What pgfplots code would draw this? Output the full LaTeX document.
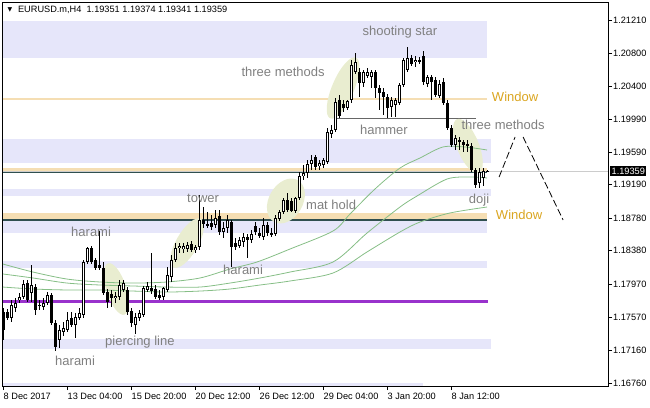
\documentclass[border=0pt]{standalone}
\usepackage{fontspec}
\setmainfont{Liberation Sans}
\newfontfamily\dejavu{DejaVu Sans}
\usepackage{pgfplots}
\pgfplotsset{compat=1.18}
\usepackage{pgfplotstable}
\usetikzlibrary{shapes.geometric}
\definecolor{lav}{RGB}{230,230,250}
\definecolor{wheatc}{RGB}{245,222,179}
\definecolor{ell}{RGB}{233,237,208}
\definecolor{magr}{RGB}{134,190,134}
\definecolor{lbl}{RGB}{128,128,128}
\definecolor{win}{RGB}{218,165,32}
\definecolor{dsg}{RGB}{47,79,79}
\definecolor{purp}{RGB}{153,50,204}
\newcommand\lf{\fontsize{13}{15}\selectfont}
\newcommand\tf{\fontsize{9.2}{11}\selectfont}

\pgfplotstableread{
i o h l c
0 1.17630 1.17679 1.17287 1.17409
1 1.17630 1.17667 1.17532 1.17556
2 1.17556 1.17777 1.17507 1.17716
3 1.17679 1.17802 1.17630 1.17740
4 1.17777 1.17863 1.17740 1.17814
5 1.17814 1.18022 1.17789 1.17973
6 1.17985 1.18022 1.17753 1.17777
7 1.17863 1.18206 1.17753 1.17961
8 1.17936 1.17973 1.17593 1.17654
9 1.17703 1.17777 1.17654 1.17716
10 1.17691 1.17802 1.17654 1.17740
11 1.17740 1.17875 1.17716 1.17838
12 1.17838 1.17863 1.17471 1.17495
13 1.17495 1.17532 1.17152 1.17201
14 1.17287 1.17471 1.17189 1.17409
15 1.17385 1.17507 1.17336 1.17434
16 1.17409 1.17630 1.17385 1.17532
17 1.17556 1.17630 1.17446 1.17471
18 1.17471 1.17618 1.17311 1.17569
19 1.17556 1.17679 1.17532 1.17618
20 1.17593 1.18267 1.17556 1.18243
21 1.18243 1.18427 1.18218 1.18415
22 1.18415 1.18439 1.18218 1.18243
23 1.18267 1.18292 1.18145 1.18169
24 1.18206 1.18623 1.18145 1.18169
25 1.18169 1.18243 1.17838 1.17863
26 1.17875 1.17912 1.17679 1.17753
27 1.17851 1.17900 1.17691 1.17802
28 1.17802 1.17875 1.17740 1.17826
29 1.17814 1.18022 1.17777 1.17961
30 1.17900 1.18022 1.17875 1.17985
31 1.17900 1.17936 1.17593 1.17630
32 1.17642 1.17679 1.17446 1.17495
33 1.17471 1.17618 1.17360 1.17569
34 1.17556 1.17654 1.17520 1.17618
35 1.17593 1.17949 1.17569 1.17924
36 1.17900 1.17998 1.17875 1.17949
37 1.17924 1.18353 1.17851 1.17887
38 1.17912 1.17961 1.17789 1.17814
39 1.17838 1.17900 1.17777 1.17802
40 1.17814 1.17936 1.17777 1.17924
41 1.17900 1.18182 1.17875 1.18084
42 1.18059 1.18329 1.17998 1.18267
43 1.18267 1.18476 1.18243 1.18415
44 1.18415 1.18476 1.18353 1.18439
45 1.18402 1.18476 1.18353 1.18439
46 1.18402 1.18488 1.18366 1.18451
47 1.18464 1.18500 1.18366 1.18390
48 1.18390 1.18451 1.18353 1.18427
49 1.18427 1.19064 1.18390 1.18758
50 1.18758 1.18917 1.18660 1.18709
51 1.18709 1.18856 1.18660 1.18684
52 1.18721 1.18819 1.18635 1.18672
53 1.18697 1.18880 1.18660 1.18782
54 1.18807 1.18880 1.18574 1.18611
55 1.18611 1.18733 1.18537 1.18660
56 1.18660 1.18819 1.18598 1.18758
57 1.18733 1.18758 1.18182 1.18427
58 1.18476 1.18537 1.18390 1.18427
59 1.18439 1.18549 1.18415 1.18513
60 1.18488 1.18598 1.18427 1.18549
61 1.18549 1.18586 1.18292 1.18513
62 1.18513 1.18635 1.18476 1.18586
63 1.18684 1.18733 1.18574 1.18611
64 1.18598 1.18660 1.18537 1.18562
65 1.18549 1.18782 1.18513 1.18697
66 1.18697 1.18733 1.18562 1.18598
67 1.18598 1.18660 1.18549 1.18574
68 1.18586 1.18819 1.18562 1.18782
69 1.18770 1.18880 1.18746 1.18856
70 1.18856 1.19028 1.18831 1.19003
71 1.19003 1.19089 1.18856 1.18880
72 1.18991 1.19028 1.18856 1.18868
73 1.18868 1.19040 1.18844 1.19028
74 1.19028 1.19346 1.19003 1.19297
75 1.19297 1.19432 1.19248 1.19334
76 1.19334 1.19493 1.19273 1.19444
77 1.19444 1.19555 1.19371 1.19493
78 1.19530 1.19555 1.19371 1.19408
79 1.19420 1.19493 1.19371 1.19457
80 1.19432 1.19518 1.19395 1.19493
81 1.19469 1.19886 1.19444 1.19837
82 1.19812 1.19923 1.19763 1.19861
83 1.19861 1.20254 1.19837 1.20205
84 1.20229 1.20290 1.20008 1.20033
85 1.20180 1.20229 1.20082 1.20131
86 1.20131 1.20229 1.20106 1.20217
87 1.20229 1.20719 1.20192 1.20658
88 1.20572 1.20805 1.20548 1.20695
89 1.20572 1.20621 1.20266 1.20437
90 1.20437 1.20597 1.20388 1.20572
91 1.20523 1.20621 1.20499 1.20572
92 1.20511 1.20597 1.20376 1.20572
93 1.20572 1.20597 1.20254 1.20376
94 1.20376 1.20413 1.20106 1.20315
95 1.20327 1.20376 1.20045 1.20266
96 1.20266 1.20303 1.20008 1.20131
97 1.20143 1.20266 1.20021 1.20229
98 1.20168 1.20254 1.20021 1.20229
99 1.20192 1.20437 1.20168 1.20413
100 1.20413 1.20744 1.20388 1.20719
101 1.20597 1.20879 1.20572 1.20744
102 1.20744 1.20781 1.20646 1.20670
103 1.20695 1.20768 1.20634 1.20719
104 1.20719 1.20756 1.20670 1.20695
105 1.20768 1.20830 1.20413 1.20450
106 1.20425 1.20536 1.20388 1.20511
107 1.20511 1.20536 1.20229 1.20450
108 1.20474 1.20511 1.20266 1.20290
109 1.20278 1.20474 1.20254 1.20425
110 1.20450 1.20499 1.20168 1.20192
111 1.20192 1.20229 1.19861 1.19886
112 1.19886 1.19923 1.19653 1.19677
113 1.19677 1.19800 1.19616 1.19763
114 1.19739 1.19775 1.19616 1.19714
115 1.19714 1.19739 1.19592 1.19677
116 1.19690 1.19739 1.19592 1.19665
117 1.19665 1.19702 1.19346 1.19371
118 1.19371 1.19395 1.19150 1.19187
119 1.19211 1.19395 1.19150 1.19346
120 1.19273 1.19395 1.19175 1.19359
121 1.19351 1.19374 1.19341 1.19359
}\candles

\begin{document}
\begin{tikzpicture}[x=1pt,y=1pt]
\useasboundingbox (0,0) rectangle (650,407);
\begin{axis}[
  at={(3pt,21pt)}, anchor=south west,
  scale only axis, width=605pt, height=383pt,
  xmin=-0.125, xmax=151.125, ymin=1.16723, ymax=1.21418,
  clip=false,
  axis line style={black, line width=1pt},
  xtick={0,16,32,48,64,80,96,112},
  xticklabels={8 Dec 2017, 13 Dec 04:00, 15 Dec 20:00, 20 Dec 12:00, 26 Dec 12:00, 29 Dec 04:00, 3 Jan 20:00, 8 Jan 12:00},
  ytick={1.16760,1.17160,1.17570,1.17970,1.18380,1.18780,1.19190,1.19590,1.19990,1.20400,1.20800,1.21210},
  yticklabels={1.16760,1.17160,1.17570,1.17970,1.18380,1.18780,1.19190,1.19590,1.19990,1.20400,1.20800,1.21210},
  xtick pos=bottom, ytick pos=right,
  tick align=outside, major tick length=4pt,
  tick style={black, line width=0.8pt},
  xticklabel style={anchor=north west, inner sep=0pt, xshift=0pt, yshift=-2.5pt, font=\tf},
  yticklabel style={anchor=west, inner sep=0pt, xshift=1pt, font=\tf},
  scaled y ticks=false,
  /pgf/number format/assume math mode=true,
]
% bands
\addplot[fill=lav, draw=none, forget plot] coordinates {(-0.125,1.21198) (120.9,1.21198) (120.9,1.20738) (-0.125,1.20738)} -- cycle;
\addplot[fill=lav, draw=none, forget plot] coordinates {(-0.125,1.19751) (121.9,1.19751) (121.9,1.19460) (-0.125,1.19460)} -- cycle;
\addplot[fill=lav, draw=none, forget plot] coordinates {(-0.125,1.19138) (121.9,1.19138) (121.9,1.19052) (-0.125,1.19052)} -- cycle;
\addplot[fill=lav, draw=none, forget plot] coordinates {(-0.125,1.18752) (120.9,1.18752) (120.9,1.18602) (-0.125,1.18602)} -- cycle;
\addplot[fill=lav, draw=none, forget plot] coordinates {(-0.125,1.18255) (120.9,1.18255) (120.9,1.18166) (-0.125,1.18166)} -- cycle;
\addplot[fill=lav, draw=none, forget plot] coordinates {(-0.125,1.17299) (121.9,1.17299) (121.9,1.17176) (-0.125,1.17176)} -- cycle;
\addplot[fill=lav, draw=none, forget plot] coordinates {(-0.125,1.16759) (104.9,1.16759) (104.9,1.16723) (-0.125,1.16723)} -- cycle;
\addplot[fill=wheatc, draw=none, forget plot] coordinates {(-0.125,1.19399) (120.9,1.19399) (120.9,1.19346) (-0.125,1.19346)} -- cycle;
\addplot[fill=wheatc, draw=none, forget plot] coordinates {(-0.125,1.18844) (120.9,1.18844) (120.9,1.18764) (-0.125,1.18764)} -- cycle;
% lines
\addplot[wheatc, line width=1.2pt, forget plot] coordinates {(-0.125,1.20241) (120.9,1.20241)};
\addplot[black!20, line width=0.8pt, forget plot] coordinates {(-0.125,1.19359) (151.125,1.19359)};
\addplot[dsg, line width=1.2pt, forget plot] coordinates {(-0.125,1.19340) (120.9,1.19340)};
\addplot[dsg, line width=1.2pt, forget plot] coordinates {(-0.125,1.18758) (120.9,1.18758)};
\addplot[purp, line width=2.5pt, forget plot] coordinates {(-0.125,1.17756) (121.1,1.17756)};
\addplot[black!60, line width=1.2pt, forget plot] coordinates {(82.9,1.20005) (118.1,1.20005)};
% ellipses
\node[ellipse, fill=ell, inner sep=0pt, minimum width=22pt, minimum height=66pt, rotate=-23] at (axis cs:84.9,1.20376) {};
\node[ellipse, fill=ell, inner sep=0pt, minimum width=22pt, minimum height=58pt, rotate=22] at (axis cs:116.1,1.19665) {};
\node[ellipse, fill=ell, inner sep=0pt, minimum width=34pt, minimum height=48pt, rotate=-30] at (axis cs:70.6,1.18991) {};
\node[ellipse, fill=ell, inner sep=0pt, minimum width=22pt, minimum height=56pt, rotate=-30] at (axis cs:45.9,1.18475) {};
\node[ellipse, fill=ell, inner sep=0pt, minimum width=20pt, minimum height=54pt, rotate=18] at (axis cs:28.2,1.17912) {};
% moving averages
\addplot[magr, line width=0.8pt, smooth, forget plot] coordinates {(-0.125,1.18218) (7.375,1.18120) (15.875,1.18034) (24.125,1.17998) (32.375,1.17985) (40.875,1.17998) (49.125,1.18047) (56.625,1.18157) (63.375,1.18243) (71.625,1.18402) (82.375,1.18623) (86.625,1.18831) (92.875,1.19138) (99.125,1.19395) (104.125,1.19518) (109.875,1.19653) (115.375,1.19653) (120.875,1.19616)};
\addplot[magr, line width=0.8pt, smooth, forget plot] coordinates {(-0.125,1.18096) (7.375,1.18047) (15.875,1.17985) (24.125,1.17961) (32.375,1.17949) (40.875,1.17936) (49.125,1.17936) (56.625,1.17985) (64.125,1.18047) (71.625,1.18120) (82.375,1.18243) (90.875,1.18598) (99.125,1.18917) (103.375,1.19052) (110.875,1.19260) (116.625,1.19285) (120.875,1.19273)};
\addplot[magr, line width=0.8pt, smooth, forget plot] coordinates {(-0.125,1.17936) (7.375,1.17912) (15.875,1.17900) (24.125,1.17900) (32.375,1.17887) (40.875,1.17875) (49.125,1.17887) (56.625,1.17912) (64.125,1.17961) (71.625,1.18010) (82.375,1.18108) (90.875,1.18366) (99.125,1.18611) (104.125,1.18733) (111.625,1.18844) (120.875,1.18917)};
% candles: wicks
\addplot[forget plot, draw=none, mark=none, error bars/.cd, y dir=both, y explicit, error mark=none, error bar style={draw=black, line width=1pt}]
  table[x=i, y expr={(\thisrow{h}+\thisrow{l})/2}, y error expr={(\thisrow{h}-\thisrow{l})/2}] {\candles};
% bodies
\addplot[forget plot, draw=none, mark=none, error bars/.cd, y dir=both, y explicit, error mark=none, error bar style={draw=black, line width=3.2pt}]
  table[x=i, y expr={(\thisrow{o}+\thisrow{c})/2}, y error expr={max(abs(\thisrow{c}-\thisrow{o})/2,0.00005)}] {\candles};
\addplot[forget plot, draw=none, mark=none, error bars/.cd, y dir=both, y explicit, error mark=none, error bar style={draw=white, line width=1.5pt}]
  table[x=i, y expr={(\thisrow{o}+\thisrow{c})/2}, y error expr={ifthenelse(\thisrow{c}>\thisrow{o}, max((\thisrow{c}-\thisrow{o})/2-0.0001,0), 0)}] {\candles};
% dashed lines
\addplot[black, line width=0.8pt, dash pattern=on 7pt off 3pt, forget plot] coordinates {(123.9,1.19285) (127.9,1.19775)};
\addplot[black, line width=0.8pt, dash pattern=on 7pt off 3pt, forget plot] coordinates {(129.9,1.19775) (139.9,1.18758)};
% labels
\node[text=lbl, font=\lf] at (axis cs:99.1,1.21063) {shooting star};
\node[text=lbl, font=\lf] at (axis cs:69.9,1.20572) {three methods};
\node[text=lbl, font=\lf] at (axis cs:95.1,1.19861) {hammer};
\node[text=lbl, font=\lf] at (axis cs:124.9,1.19923) {three methods};
\node[text=win, font=\lf] at (axis cs:127.9,1.20266) {Window};
\node[text=lbl, font=\lf] at (axis cs:118.9,1.19003) {doji};
\node[text=win, font=\lf] at (axis cs:128.9,1.18819) {Window};
\node[text=lbl, font=\lf] at (axis cs:81.9,1.18942) {mat hold};
\node[text=lbl, font=\lf] at (axis cs:49.9,1.19028) {tower};
\node[text=lbl, font=\lf] at (axis cs:21.9,1.18611) {harami};
\node[text=lbl, font=\lf] at (axis cs:59.9,1.18145) {harami};
\node[text=lbl, font=\lf] at (axis cs:17.9,1.17029) {harami};
\node[text=lbl, font=\lf] at (axis cs:34.1,1.17262) {piercing line};
% title
\node[anchor=west, inner sep=0pt, font=\tf] at (axis cs:3.6,1.21332) {EURUSD.m,H4\ \ 1.19351 1.19374 1.19341 1.19359};
\node[inner sep=0pt, font=\dejavu\fontsize{6}{7}\selectfont] at (axis cs:1.6,1.21332) {▼};
% current price box
\node[anchor=west, fill=black, text=white, inner sep=1.5pt, font=\tf, xshift=2pt] at (axis cs:151.125,1.19359) {1.19359};
\end{axis}
\end{tikzpicture}
\end{document}
